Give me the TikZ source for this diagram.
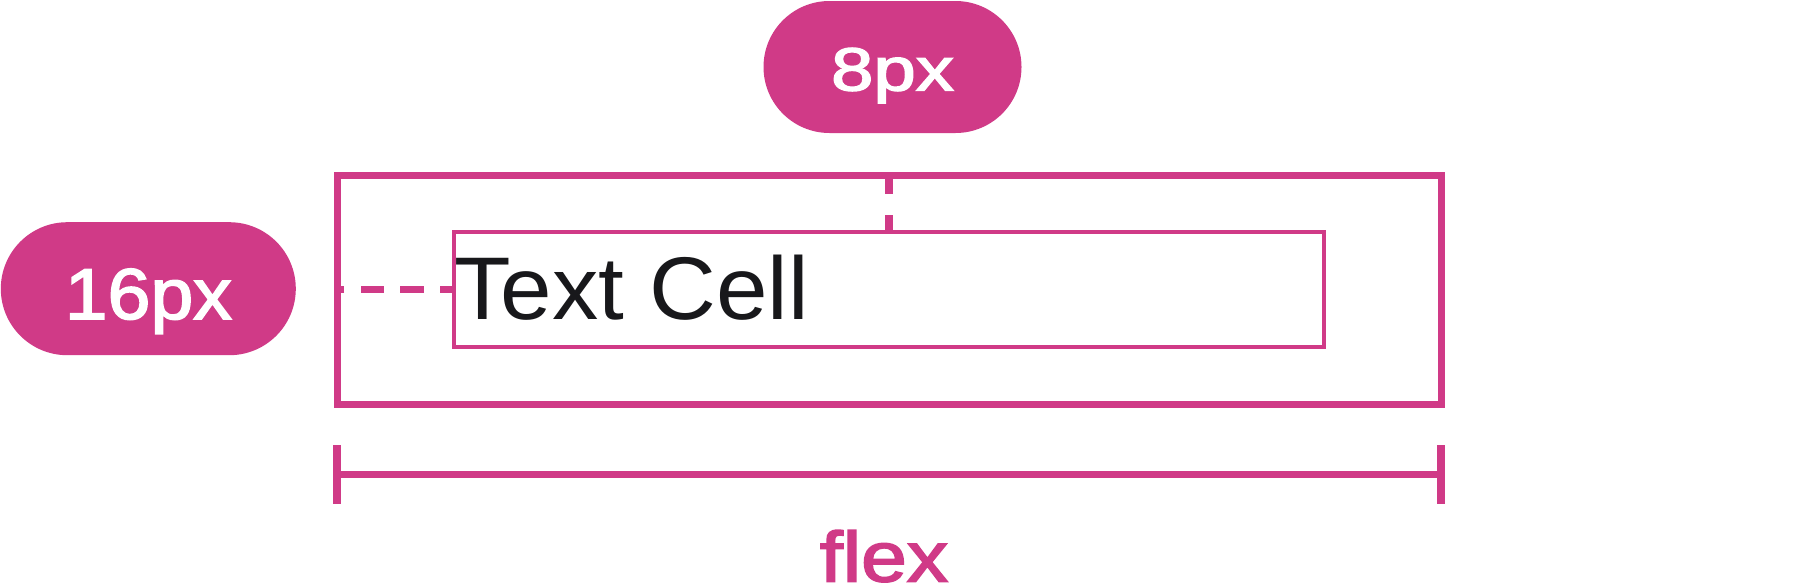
\documentclass[tikz,border=0pt]{standalone}
\usepackage{fontspec}
\usepackage{graphicx}
\setmainfont{Liberation Sans}
\newfontfamily\mediumfont[FakeBold=2.2]{Liberation Sans}
\definecolor{brandpink}{HTML}{D03A87}
\definecolor{inkdark}{HTML}{18181B}
\tikzset{
  frame/.style={draw=brandpink, line width=7pt, inner sep=0pt, outer sep=0pt},
  cellbox/.style={draw=brandpink, line width=3.5pt, inner sep=0pt, outer sep=0pt},
  dashline/.style={draw=brandpink, line width=7.6pt},
  dimline/.style={draw=brandpink, line width=7.3pt},
  pill/.style={fill=brandpink, inner sep=0pt, outer sep=0pt, text=white},
}
\begin{document}
\begin{tikzpicture}[x=1pt,y=-1pt]
\useasboundingbox (0,0) rectangle (1817,587);
% outer container and inner cell
\node[frame, minimum width=1104pt, minimum height=229pt] (outer) at (889,289.5) {};
\node[cellbox, minimum width=870pt, minimum height=115pt] (inner) at (889,289.5) {};
% text
\node[anchor=base west, inner sep=0pt, text=inkdark, font=\fontsize{89}{100}\selectfont] (txt) at (454,319.3) {\scalebox{1.04}[1]{Text Cell}};
% dashed spacing guides
\draw[dashline, dash pattern=on 23.3pt off 16.4pt, dash phase=9.3pt] (inner.west) -- (outer.west);
\draw[dashline, dash pattern=on 18.5pt off 21.5pt] (outer.north) -- (inner.north);
% pills
\node[pill, rounded corners=66pt, minimum width=258pt, minimum height=132pt, text height=47pt, text depth=0pt, font=\mediumfont\fontsize{61}{70}\selectfont] (p8) at (892.5,67) {\scalebox{1.25}[1]{8px}};
\node[pill, rounded corners=66.5pt, minimum width=295pt, minimum height=133pt, text height=60.6pt, text depth=0pt, font=\mediumfont\fontsize{72}{80}\selectfont] (p16) at (148.3,288.7) {\scalebox{1.07}[1]{16px}};
% dimension line
\coordinate (dl) at (337,474.7);
\coordinate (dr) at (1441,474.7);
\coordinate (dlt) at (337,445);
\coordinate (dlb) at (337,504);
\coordinate (drt) at (1441,445);
\coordinate (drb) at (1441,504);
\draw[dimline] (dl) -- (dr);
\draw[dimline] (dlt) -- (dlb);
\draw[dimline] (drt) -- (drb);
\node[anchor=base, inner sep=0pt, text=brandpink, font=\mediumfont\fontsize{71}{80}\selectfont] (flex) at (884,581.5) {\scalebox{1.16}[1]{flex}};
\end{tikzpicture}
\end{document}
